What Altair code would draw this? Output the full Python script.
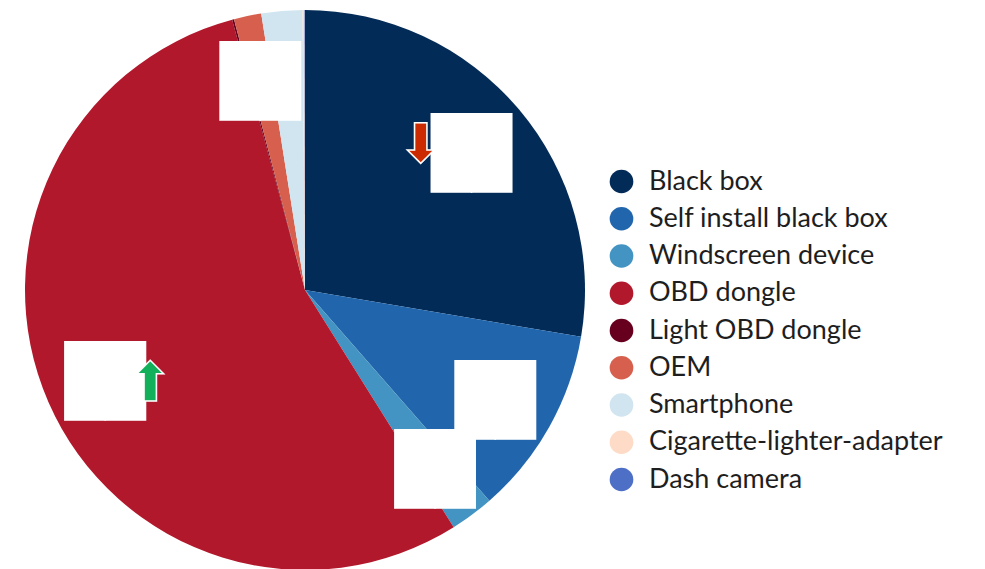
import altair as alt
import pandas as pd

categories = ["Black box", "Self install black box", "Windscreen device", "OBD dongle",
              "Light OBD dongle", "OEM", "Smartphone", "Cigarette-lighter-adapter", "Dash camera"]
shares = [27.67, 10.89, 2.53, 54.72, 0.11, 1.58, 2.36, 0.11, 0.03]
colors = ["#032b57", "#2166ac", "#4393c3", "#b2182b", "#67001f", "#d6604d",
          "#d1e5f0", "#fddbc7", "#4d6fc6"]
masked = [True, True, True, True, False, True, False, False, False]
trend = ["down", "", "", "up", "", "", "", "", ""]

df = pd.DataFrame({
    "category": categories,
    "share": shares,
    "order": list(range(len(categories))),
    "box": ["██" if m else "" for m in masked],
    "down": ["⬇" if t == "down" else "" for t in trend],
    "up": ["⬆" if t == "up" else "" for t in trend],
})

base = alt.Chart(df).encode(
    theta=alt.Theta("share:Q", stack=True),
    order=alt.Order("order:Q"),
    detail="category:N",
)

pie = base.mark_arc(outerRadius=280, stroke=None).encode(
    color=alt.Color(
        "category:N",
        sort=categories,
        scale=alt.Scale(domain=categories, range=colors),
        legend=alt.Legend(
            title=None,
            orient="none",
            legendX=600,
            legendY=160,
            symbolType="circle",
            symbolSize=560,
            symbolStrokeWidth=0,
            labelFont="Lato",
            labelFontSize=27,
            labelColor="#1e1e1e",
            labelOffset=14,
            rowPadding=9.25,
            labelLimit=400,
        ),
    )
)

boxes = base.mark_text(radius=218, dy=7, color="white", fontSize=67,
                       font="DejaVu Sans Mono", align="center", baseline="middle").encode(text="box:N")

down = base.mark_text(radius=218, dx=-51, dy=-3, color="#cc2a00", stroke="white",
                      strokeWidth=1.5, fontSize=54, font="DejaVu Sans").encode(text="down:N")
up = base.mark_text(radius=218, dx=45, dy=8, color="#12b05a", stroke="white",
                    strokeWidth=1.5, fontSize=54, font="DejaVu Sans").encode(text="up:N")

chart = alt.layer(pie, boxes, down, up).properties(
    width=594, height=564, padding=0
).configure_view(stroke=None)

chart.save("out.html", embed_options={"renderer": "svg", "actions": False})
